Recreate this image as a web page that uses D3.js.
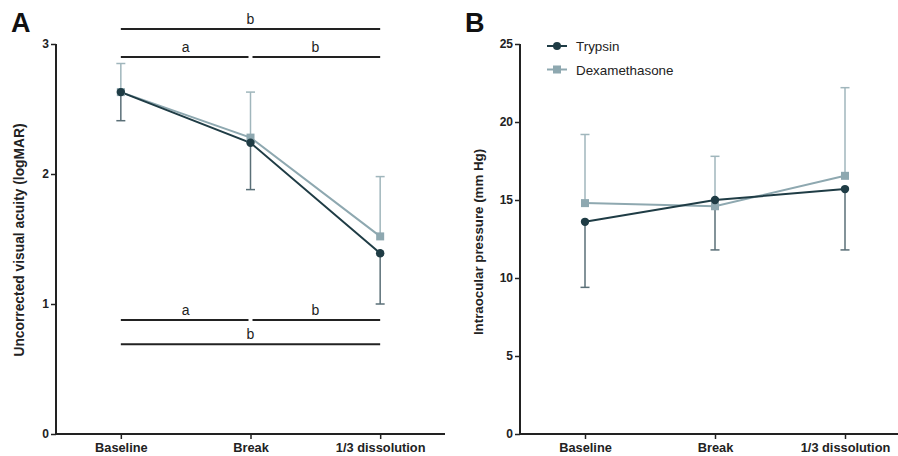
<!DOCTYPE html>
<html><head><meta charset="utf-8">
<script src="https://cdn.jsdelivr.net/npm/d3@7"></script>
<style>body{margin:0;background:#fff}svg{display:block}text{font-family:"Liberation Sans",Arial,sans-serif}</style>
</head><body>
<svg id="c" width="898" height="456"></svg>
<script>
const categories = ["Baseline", "Break", "1/3 dissolution"];
const seriesNames = ["Trypsin", "Dexamethasone"];
// Panel A: uncorrected visual acuity (logMAR)
const vaTrypsin = [2.63, 2.24, 1.39];
const vaTrypsinLower = [2.41, 1.88, 1.00];
const vaDexa = [2.63, 2.28, 1.52];
const vaDexaUpper = [2.85, 2.63, 1.98];
const vaTicks = [0, 1, 2, 3];
// Panel B: intraocular pressure (mm Hg)
const iopTrypsin = [13.6, 15.0, 15.7];
const iopTrypsinLower = [9.4, 11.8, 11.8];
const iopDexa = [14.8, 14.6, 16.55];
const iopDexaUpper = [19.2, 17.8, 22.2];
const iopTicks = [0, 5, 10, 15, 20, 25];
// Significance brackets in panel A: [fromIndex, toIndex, label, value]
const sigTop = [[0, 2, "b", 3.115], [0, 1, "a", 2.9], [1, 2, "b", 2.9]];
const sigBottom = [[0, 1, "a", 0.877], [1, 2, "b", 0.877], [0, 2, "b", 0.69]];

const svg = d3.select("#c");
const cDark = "#1f3c45", cDarkErr = "#5a6f77", cLight = "#8ea8b0", cLightErr = "#a0b6bc";

function panel(opt) {
  const x = d3.scalePoint().domain(categories).range([opt.x0, opt.x1]).padding(0.5);
  const y = d3.scaleLinear().domain([0, opt.max]).range([434, 44]);
  const g = svg.append("g");
  // axes
  const ya = g.append("g").attr("transform", `translate(${opt.x0},0)`)
    .call(d3.axisLeft(y).tickValues(opt.ticks).tickSize(5).tickPadding(2).tickFormat(d3.format("d")));
  const xa = g.append("g").attr("transform", `translate(0,434)`)
    .call(d3.axisBottom(x).tickSize(5).tickPadding(4));
  [ya, xa].forEach(a => {
    a.select(".domain").attr("stroke", "#222").attr("stroke-width", 2);
    a.selectAll(".tick line").attr("stroke", "#222").attr("stroke-width", 1.5);
    a.selectAll("text").attr("fill", "#222").attr("font-weight", "bold").attr("font-size", 12)
      .attr("font-family", "'Liberation Sans',Arial,sans-serif");
  });
  xa.selectAll("text").attr("font-size", 12.8);
  xa.select(".domain").attr("d", `M${opt.x0},0H${opt.x1}`);
  ya.select(".domain").attr("d", `M0,${y(opt.max)}V434`);
  // y label
  g.append("text").attr("transform", `translate(${opt.labX},${opt.labY}) rotate(-90)`)
    .attr("text-anchor", "middle").attr("font-weight", "bold").attr("font-size", opt.labSize).attr("fill", "#222")
    .text(opt.ylabel);
  // panel letter
  g.append("text").attr("x", opt.letterX).attr("y", 32).attr("font-weight", "bold")
    .attr("font-size", 27).attr("fill", "#111").text(opt.letter);

  // error bars
  function errs(vals, ends, col) {
    categories.forEach((c, i) => {
      g.append("line").attr("x1", x(c)).attr("x2", x(c)).attr("y1", y(vals[i])).attr("y2", y(ends[i]))
        .attr("stroke", col).attr("stroke-width", 1.5);
      g.append("line").attr("x1", x(c) - 4.5).attr("x2", x(c) + 4.5).attr("y1", y(ends[i])).attr("y2", y(ends[i]))
        .attr("stroke", col).attr("stroke-width", 1.5);
    });
  }
  errs(opt.dexa, opt.dexaUp, cLightErr);
  errs(opt.tryp, opt.trypLow, cDarkErr);
  const line = d3.line().x((d, i) => x(categories[i])).y(d => y(d));
  g.append("path").datum(opt.dexa).attr("d", line).attr("fill", "none").attr("stroke", cLight).attr("stroke-width", 2);
  g.append("path").datum(opt.tryp).attr("d", line).attr("fill", "none").attr("stroke", cDark).attr("stroke-width", 2);
  opt.dexa.forEach((v, i) => g.append("rect").attr("x", x(categories[i]) - 4).attr("y", y(v) - 4)
    .attr("width", 8).attr("height", 8).attr("fill", cLight));
  opt.tryp.forEach((v, i) => g.append("circle").attr("cx", x(categories[i])).attr("cy", y(v)).attr("r", 4.2).attr("fill", cDark));
  return {x, y, g};
}

const A = panel({x0: 56, x1: 445, max: 3, ticks: vaTicks, tryp: vaTrypsin, trypLow: vaTrypsinLower,
  dexa: vaDexa, dexaUp: vaDexaUpper, ylabel: "Uncorrected visual acuity (logMAR)", labX: 24, labY: 240, labSize: 13.8, letter: "A", letterX: 11});
const B = panel({x0: 520, x1: 910, max: 25, ticks: iopTicks, tryp: iopTrypsin, trypLow: iopTrypsinLower,
  dexa: iopDexa, dexaUp: iopDexaUpper, ylabel: "Intraocular pressure (mm Hg)", labX: 483, labY: 242, labSize: 13.3, letter: "B", letterX: 465});

// significance brackets
function sig(list) {
  list.forEach(([a, b, lab, v]) => {
    const xa = A.x(categories[a]), xb = A.x(categories[b]);
    const adjA = (a === 1) ? 2 : 0, adjB = (b === 1) ? -2 : 0;
    const yy = A.y(v);
    A.g.append("line").attr("x1", xa + adjA).attr("x2", xb + adjB).attr("y1", yy).attr("y2", yy)
      .attr("stroke", "#222").attr("stroke-width", 2);
    A.g.append("text").attr("x", (xa + xb) / 2).attr("y", yy - 5).attr("text-anchor", "middle")
      .attr("font-size", 14).attr("fill", "#222").text(lab);
  });
}
sig(sigTop); sig(sigBottom);

// legend
const leg = B.g.append("g");
seriesNames.forEach((n, i) => {
  const yy = 46 + i * 23.5, col = i === 0 ? cDark : cLight;
  leg.append("line").attr("x1", 547).attr("x2", 567).attr("y1", yy).attr("y2", yy).attr("stroke", col).attr("stroke-width", 2);
  if (i === 0) leg.append("circle").attr("cx", 557).attr("cy", yy).attr("r", 4).attr("fill", col);
  else leg.append("rect").attr("x", 553).attr("y", yy - 4).attr("width", 8).attr("height", 8).attr("fill", col);
  leg.append("text").attr("x", 576).attr("y", yy + 5).attr("font-size", 13.4).attr("fill", "#222").text(n);
});
</script>
</body></html>
